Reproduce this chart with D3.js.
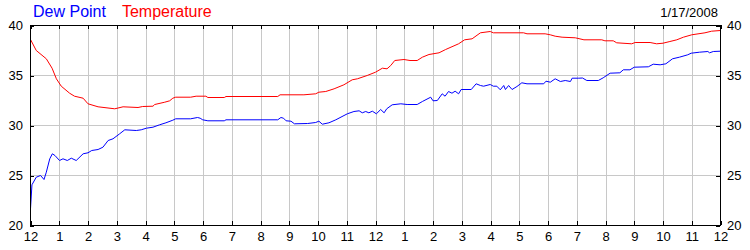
<!DOCTYPE html>
<meta charset="utf-8">
<head>
    <title>Dew Point / Temperature</title>
    <script src="https://cdn.jsdelivr.net/npm/d3@7"></script>
</head>

<style>
    body { margin: 0; background: white; }
    text { font-family: "Liberation Sans", Arial, sans-serif; }
    .grid line { stroke: #c8c8c8; shape-rendering: crispEdges; }
    .axis line { stroke: black; shape-rendering: crispEdges; }
    .axis text { font-size: 13px; fill: black; }
</style>

<svg></svg>

<script>
    // chart values
    var hourLabels = ["12","1","2","3","4","5","6","7","8","9","10","11",
                      "12","1","2","3","4","5","6","7","8","9","10","11","12"];
    var yTicks = [20, 25, 30, 35, 40];
    var dateLabel = "1/17/2008";

    // hours since midnight
    var tempHours = [0,0.2,0.55,0.75,0.9,1.07,1.36,1.53,1.83,2.0,2.35,2.93,3.22,3.74,3.9,4.26,4.32,4.67,4.84,4.95,
        5.05,5.57,5.76,6.1,6.17,6.74,6.8,8.6,8.68,9.51,9.92,10.03,10.27,10.56,10.9,11.19,11.37,11.71,12.0,12.24,
        12.4,12.53,12.67,12.99,13.2,13.45,13.63,13.86,14.21,14.44,14.89,15.1,15.36,15.65,15.99,16.1,17.15,17.27,17.9,18.08,
        18.25,18.49,18.95,19.25,19.87,19.98,20.27,20.39,20.91,21.03,21.55,21.78,22.0,22.24,22.48,22.71,23.0,23.46,23.69,24.0];
    var tempValues = [38.6,37.5,36.67,35.73,34.67,33.93,33.23,32.93,32.73,32.17,31.87,31.67,31.87,31.8,31.9,31.93,32.1,32.33,32.47,32.73,
        32.83,32.83,32.93,32.93,32.8,32.8,32.9,32.9,33.07,33.07,33.17,33.33,33.4,33.67,34.07,34.57,34.67,35.0,35.33,35.73,
        35.67,36.0,36.5,36.6,36.5,36.5,36.83,37.1,37.27,37.6,38.17,38.57,38.67,39.27,39.4,39.27,39.27,39.17,39.17,39.07,
        38.93,38.83,38.77,38.57,38.57,38.47,38.47,38.27,38.17,38.3,38.3,38.17,38.23,38.4,38.57,38.83,39.07,39.27,39.43,39.5];

    var dewHours = [0,0.05,0.2,0.35,0.47,0.55,0.67,0.76,0.85,1.01,1.13,1.28,1.42,1.59,1.83,2.0,2.13,2.35,2.52,2.7,
        2.87,3.1,3.28,3.68,3.85,4.03,4.26,4.49,4.71,4.95,5.05,5.57,5.81,5.9,5.99,6.17,6.74,6.8,8.6,8.71,
        8.8,8.89,9.06,9.18,9.64,9.92,10.03,10.15,10.38,10.62,11.02,11.25,11.43,11.54,11.66,11.77,11.89,12.03,12.18,12.3,
        12.39,12.58,12.88,13.1,13.45,13.63,13.92,14.0,14.15,14.32,14.42,14.54,14.66,14.77,14.89,14.98,15.33,15.5,15.65,15.76,
        15.99,16.1,16.22,16.34,16.46,16.52,16.63,16.75,16.92,17.09,17.27,17.85,17.93,18.08,18.25,18.43,18.6,18.78,18.84,19.07,
        19.2,19.35,19.75,19.92,20.16,20.5,20.62,20.85,21.0,21.49,21.66,21.9,22.1,22.33,22.57,22.86,22.98,23.27,23.56,23.62,
        23.75,24.0];
    var dewValues = [21.67,24.07,24.83,25.0,24.6,25.33,26.67,27.17,27.0,26.5,26.67,26.5,26.73,26.5,27.17,27.27,27.5,27.6,27.83,28.5,
        28.67,29.17,29.57,29.5,29.57,29.73,29.83,30.07,30.27,30.53,30.67,30.67,30.8,30.73,30.57,30.47,30.47,30.57,30.57,30.8,
        30.73,30.47,30.43,30.17,30.2,30.3,30.43,30.13,30.27,30.57,31.17,31.4,31.47,31.27,31.4,31.27,31.43,31.17,31.6,31.27,
        31.67,32.07,32.17,32.1,32.1,32.4,32.83,32.47,32.5,33.17,32.93,33.4,33.23,33.43,33.17,33.6,33.6,34.17,34.0,33.93,
        34.1,33.93,33.93,33.57,34.0,33.6,34.0,33.6,33.9,34.27,34.17,34.17,34.43,34.33,34.67,34.4,34.5,34.4,34.73,34.73,
        34.75,34.5,34.5,34.77,35.23,35.27,35.57,35.57,35.83,35.87,36.13,36.07,36.17,36.67,36.83,37.07,37.23,37.33,37.4,37.27,
        37.4,37.43];

    var vWidth = 750;
    var vHeight = 250;
    var pLeft = 30, pRight = 720, pTop = 25, pBottom = 225;

    var svg = d3.select('svg')
        .attr('width', vWidth)
        .attr('height', vHeight);

    var x = d3.scaleLinear().domain([0, 24]).range([pLeft + 0.5, pRight + 0.5]);
    var y = d3.scaleLinear().domain([20, 40]).range([pBottom + 0.5, pTop + 0.5]);

    // grid
    var grid = svg.append('g').attr('class', 'grid');
    grid.selectAll('line.v').data(d3.range(1, 24)).enter()
        .append('line')
        .attr('x1', function (d) { return Math.round(x(d)) + 0.5; })
        .attr('x2', function (d) { return Math.round(x(d)) + 0.5; })
        .attr('y1', pTop).attr('y2', pBottom);
    grid.selectAll('line.h').data(yTicks.slice(1, -1)).enter()
        .append('line')
        .attr('x1', pLeft).attr('x2', pRight)
        .attr('y1', function (d) { return y(d); })
        .attr('y2', function (d) { return y(d); });

    // lines
    var line = d3.line()
        .x(function (d) { return x(d[0]); })
        .y(function (d) { return y(d[1]); });

    svg.append('path')
        .datum(d3.zip(tempHours, tempValues))
        .attr('fill', 'none').attr('stroke', '#ff0000').attr('stroke-width', 1)
        .attr('d', line);

    svg.append('path')
        .datum(d3.zip(dewHours, dewValues))
        .attr('fill', 'none').attr('stroke', '#0000ff').attr('stroke-width', 1)
        .attr('d', line);

    // axes (ticks inside)
    var hourFmt = function (d) { return hourLabels[d]; };

    svg.append('g').attr('class', 'axis')
        .attr('transform', 'translate(0,' + pBottom + ')')
        .call(d3.axisBottom(x).tickValues(d3.range(0, 25)).tickFormat(hourFmt)
            .tickSizeInner(-4).tickSizeOuter(0).tickPadding(7));

    svg.append('g').attr('class', 'axis')
        .attr('transform', 'translate(0,' + pTop + ')')
        .call(d3.axisTop(x).tickValues(d3.range(0, 25)).tickFormat('')
            .tickSizeInner(-4).tickSizeOuter(0));

    svg.append('g').attr('class', 'axis')
        .attr('transform', 'translate(' + pLeft + ',0)')
        .call(d3.axisLeft(y).tickValues(yTicks).tickFormat(d3.format('d'))
            .tickSizeInner(-4).tickSizeOuter(0).tickPadding(7));

    svg.append('g').attr('class', 'axis')
        .attr('transform', 'translate(' + pRight + ',0)')
        .call(d3.axisRight(y).tickValues(yTicks).tickFormat(d3.format('d'))
            .tickSizeInner(-4).tickSizeOuter(0).tickPadding(7));

    svg.selectAll('.axis .domain').remove();

    // frame
    svg.append('rect')
        .attr('x', pLeft + 0.5).attr('y', pTop + 0.5)
        .attr('width', pRight - pLeft).attr('height', pBottom - pTop)
        .attr('fill', 'none').attr('stroke', 'black')
        .attr('shape-rendering', 'crispEdges');

    // legend + date
    var legend = svg.append('text').attr('x', 33).attr('y', 17).style('font-size', '16px');
    legend.append('tspan').attr('fill', '#0000ff').text('Dew Point');
    legend.append('tspan').attr('fill', '#ff0000').attr('dx', 16).text('Temperature');

    svg.append('text')
        .attr('x', 718).attr('y', 17)
        .attr('text-anchor', 'end')
        .style('font-size', '13px')
        .attr('fill', 'black')
        .text(dateLabel);
</script>
